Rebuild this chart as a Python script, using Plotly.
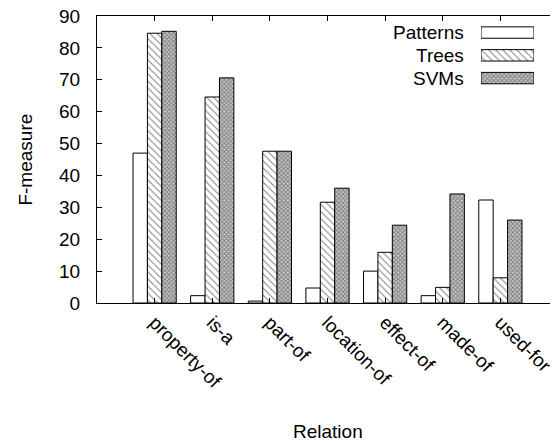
import plotly.graph_objects as go

categories = ["property-of", "is-a", "part-of", "location-of", "effect-of", "made-of", "used-for"]
series_names = ["Patterns", "Trees", "SVMs"]
patterns_vals = [47, 2.3, 0.6, 4.7, 10.0, 2.3, 32.3]
trees_vals = [84.6, 64.6, 47.6, 31.6, 15.9, 4.9, 7.9]
svms_vals = [85.2, 70.6, 47.6, 36.0, 24.4, 34.2, 26.0]
y_ticks = [0, 10, 20, 30, 40, 50, 60, 70, 80, 90]

FONT = "Liberation Sans, Arial, sans-serif"
styles = [
    dict(shape="", fgcolor="black", bgcolor="white"),
    dict(shape="\\", fgcolor="black", bgcolor="white", size=5, solidity=0.2),
    dict(shape="x", fgcolor="#333333", bgcolor="#c8c8c8", size=3, solidity=0.5),
]
values = [patterns_vals, trees_vals, svms_vals]

fig = go.Figure()
for name, vals, st in zip(series_names, values, styles):
    fig.add_trace(go.Bar(
        x=categories, y=vals, name=name,
        marker=dict(color="white", line=dict(color="black", width=1), pattern=st),
        showlegend=False,
    ))

# manual legend drawn on its own small axes (text left of key)
for name, st in zip(series_names, styles):
    fig.add_trace(go.Bar(
        x=[1], y=[name], orientation="h", xaxis="x3", yaxis="y3",
        width=0.5,
        marker=dict(color="white", line=dict(color="black", width=1), pattern=st),
        showlegend=False, hoverinfo="skip",
    ))

# invisible trace to activate right tick axis
fig.add_trace(go.Scatter(x=[categories[0]], y=[0], yaxis="y2", mode="markers",
                         marker=dict(opacity=0), showlegend=False, hoverinfo="skip"))

annotations = [
    dict(text="Relation", xref="paper", yref="paper", x=0.5, y=-0.449,
         xanchor="center", yanchor="middle", showarrow=False, font=dict(size=19)),
    dict(text="F-measure", xref="paper", yref="paper", x=-0.156, y=0.5,
         textangle=-90, xanchor="center", yanchor="middle", showarrow=False,
         font=dict(size=19)),
]
for name in series_names:
    annotations.append(dict(text=name, xref="paper", yref="y3", x=0.800, y=name,
                            xanchor="right", yanchor="middle", showarrow=False,
                            font=dict(size=19)))

fig.update_layout(
    width=550, height=433,
    margin=dict(l=89, r=0, t=8, b=138),
    paper_bgcolor="white", plot_bgcolor="white",
    font=dict(family=FONT, size=19, color="black"),
    barmode="group", bargap=0.25, bargroupgap=0,
    xaxis=dict(
        range=[-1, 7], tickangle=45, ticks="inside", ticklen=5, tickcolor="black",
        showline=True, linecolor="black", linewidth=1, mirror="ticks",
        showgrid=False, automargin=False, tickfont=dict(size=19),
        ticklabeloverflow="allow",
    ),
    yaxis=dict(
        range=[0, 90], tickvals=y_ticks, ticks="inside", ticklen=5, tickcolor="black",
        showline=True, linecolor="black", linewidth=1, showgrid=False, zeroline=False,
        automargin=False, ticklabelstandoff=12, ticklabeloverflow="allow",
    ),
    yaxis2=dict(
        range=[0, 90], tickvals=y_ticks, overlaying="y", side="right",
        ticks="inside", ticklen=5, tickcolor="black", showticklabels=False,
        showline=False, showgrid=False, zeroline=False, automargin=False,
    ),
    xaxis3=dict(domain=[0.833, 0.948], range=[0, 1], anchor="y3",
                visible=False, fixedrange=True),
    yaxis3=dict(domain=[0.744, 0.982], anchor="x3", range=[2.5, -0.5],
                categoryorder="array", categoryarray=series_names,
                visible=False, automargin=False),
    annotations=annotations,
)

fig.write_html("out.html")
